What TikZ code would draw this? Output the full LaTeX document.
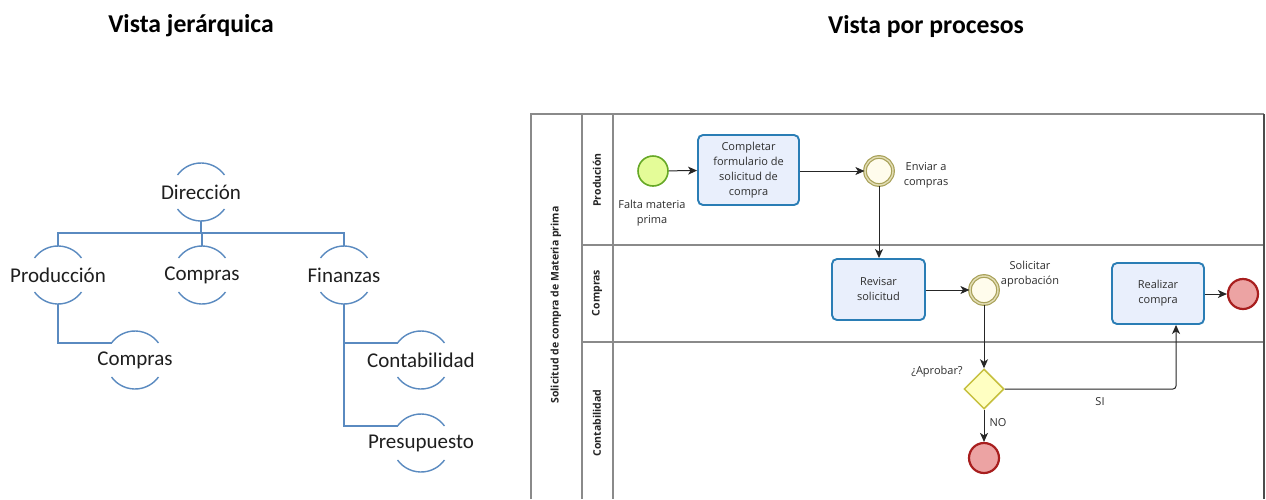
\documentclass[tikz,border=0pt]{standalone}
\usepackage{fontspec}
\setmainfont{Carlito}
\newfontfamily\bpmnfont{Open Sans}
\usetikzlibrary{shapes.geometric,arrows.meta,calc}

\definecolor{orgblue}{HTML}{5A8AC0}
\definecolor{poolgray}{HTML}{8A8A8A}
\definecolor{taskfill}{HTML}{E9EFFC}
\definecolor{taskdraw}{HTML}{2A7DB5}
\definecolor{startfill}{HTML}{E4FC98}
\definecolor{startdraw}{HTML}{66A826}
\definecolor{intfill}{HTML}{FFFCEC}
\definecolor{intdraw}{HTML}{A9A25A}
\definecolor{intmid}{HTML}{E2DDB4}
\definecolor{gwfill}{HTML}{FFFFC2}
\definecolor{gwdraw}{HTML}{C6C03E}
\definecolor{endfill}{HTML}{ECA3A3}
\definecolor{enddraw}{HTML}{A81E1E}
\definecolor{labelgray}{HTML}{2E2E2E}

\tikzset{
  title/.style={font=\bfseries\fontsize{25.7}{30}\selectfont, text=black},
  orgnode/.style={circle, minimum size=58pt, inner sep=0pt, outer sep=0pt,
    font=\fontsize{21}{25}\selectfont, text={black!88}},
  orgline/.style={draw=orgblue, line width=1.4pt},
  poolline/.style={draw=poolgray, line width=1.3pt},
  lanelabel/.style={rotate=90, font=\bpmnfont\bfseries\fontsize{10.5}{12}\selectfont, text={black!85}},
  task/.style={rectangle, rounded corners=5pt, draw=taskdraw, line width=1.9pt,
    fill=taskfill, align=center, inner sep=0pt, text={labelgray},
    font=\bpmnfont\fontsize{11}{15}\selectfont},
  startev/.style={circle, minimum size=30pt, inner sep=0pt, draw=startdraw,
    line width=1.6pt, fill=startfill},
  interev/.style={circle, minimum size=28pt, inner sep=0pt, draw=intdraw,
    line width=1.2pt, double=intmid, double distance=1.4pt, fill=intfill},
  endev/.style={circle, minimum size=30pt, inner sep=0pt, draw=enddraw,
    line width=2.2pt, fill=endfill},
  gateway/.style={diamond, minimum width=40pt, minimum height=40pt, inner sep=0pt,
    aspect=1, draw=gwdraw, line width=1.5pt, fill=gwfill},
  evlabel/.style={align=center, inner sep=0pt, text={labelgray},
    font=\bpmnfont\fontsize{11}{15}\selectfont},
  flow/.style={draw={black!85}, line width=1pt,
    -{Stealth[length=9pt, width=8pt, inset=2.5pt]}},
}

% top and bottom arcs of an organisation-chart node
\newcommand{\orgarcs}[1]{%
  \draw[orgline] (#1.36) arc[start angle=36, end angle=144, radius=29pt];
  \draw[orgline] (#1.216) arc[start angle=216, end angle=324, radius=29pt];}

\begin{document}
\begin{tikzpicture}[x=1pt, y=1pt]
\path[use as bounding box, fill=white] (0,0) rectangle (1266,-499);

% ---------- titles ----------
\node[title] (t-jer) at (191,-26) {Vista jerárquica};
\node[title] (t-proc) at (926,-26) {Vista por procesos};

% ---------- hierarchy ----------
\node[orgnode] (dir)  at (201,-192) {\makebox[0pt]{Dirección}};
\node[orgnode] (prod) at (58,-275)  {\makebox[0pt]{Producción}};
\node[orgnode] (comp) at (202,-275) {\makebox[0pt]{Compras}};
\node[orgnode] (fin)  at (344,-275) {\makebox[0pt]{Finanzas}};
\node[orgnode] (compc) at (135,-360) {\makebox[0pt]{Compras}};
\node[orgnode] (cont) at (421,-360) {\makebox[0pt]{Contabilidad}};
\node[orgnode] (pres) at (421,-443) {\makebox[0pt]{Presupuesto}};
\foreach \n in {dir,prod,comp,fin,compc,cont,pres}{\orgarcs{\n}}

\coordinate (bus) at (201,-233);
\draw[orgline] (dir.south) -- (bus);
\draw[orgline] (prod.north) -- (prod.north |- bus) -- (fin.north |- bus) -- (fin.north);
\draw[orgline] (comp.north) -- (comp.north |- bus);
\draw[orgline] (prod.south) |- (compc.144);
\draw[orgline] (fin.south) |- (cont.144);
\draw[orgline] (fin.south) |- (pres.144);

% ---------- pool and lanes ----------
\draw[poolline] (531,-499) -- (531,-114) -- (1264,-114);
\draw[poolline] (582,-114) -- (582,-499);
\draw[poolline] (613,-114) -- (613,-499);
\draw[poolline] (582,-245) -- (1264,-245);
\draw[poolline] (582,-342) -- (1264,-342);
\draw[draw={black!70}, line width=1.4pt] (1264,-114) -- (1264,-499);

\node[lanelabel] (pool) at (556,-305) {Solicitud de compra de Materia prima};
\node[lanelabel] (l-prod) at (597,-180) {Produción};
\node[lanelabel] (l-comp) at (597,-293) {Compras};
\node[lanelabel] (l-cont) at (597,-423) {Contabilidad};

% ---------- process elements ----------
\node[startev] (start) at (653,-171) {};
\node[task, minimum width=101pt, minimum height=70pt] (fill) at (748.5,-170)
  {Completar\\formulario de\\solicitud de\\compra};
\node[interev] (send) at (879,-171) {};
\node[task, minimum width=93pt, minimum height=61pt] (check) at (878.5,-289.5)
  {Revisar\\solicitud};
\node[interev] (ask) at (984,-290) {};
\node[gateway] (gw) at (984,-389) {};
\node[endev] (endno) at (984,-458) {};
\node[task, minimum width=92pt, minimum height=61pt] (buy) at (1158,-293.5)
  {Realizar\\compra};
\node[endev] (endyes) at (1243,-294) {};

% labels
\node[evlabel] (lb-start) at (652,-213) {Falta materia\\prima};
\node[evlabel] (lb-send) at (926,-175.5) {Enviar a\\compras};
\node[evlabel] (lb-ask) at (1030,-274.5) {Solicitar\\aprobación};
\node[evlabel] (lb-gw) at (937,-372) {¿Aprobar?};
\node[evlabel] (lb-si) at (1100,-402) {SI};
\node[evlabel] (lb-no) at (998,-423) {NO};

% sequence flows
\draw[flow] (start) -- (fill);
\draw[flow] (fill.east |- send.west) -- (send);
\draw[flow] (send) -- (send |- check.north);
\draw[flow] (check.east |- ask.west) -- (ask);
\draw[flow] (ask) -- (gw);
\draw[flow, rounded corners=3pt] (gw.east) -| ([xshift=18pt]buy.south);
\draw[flow] (gw) -- (endno);
\draw[flow] (buy.east |- endyes.west) -- (endyes);
\end{tikzpicture}
\end{document}
